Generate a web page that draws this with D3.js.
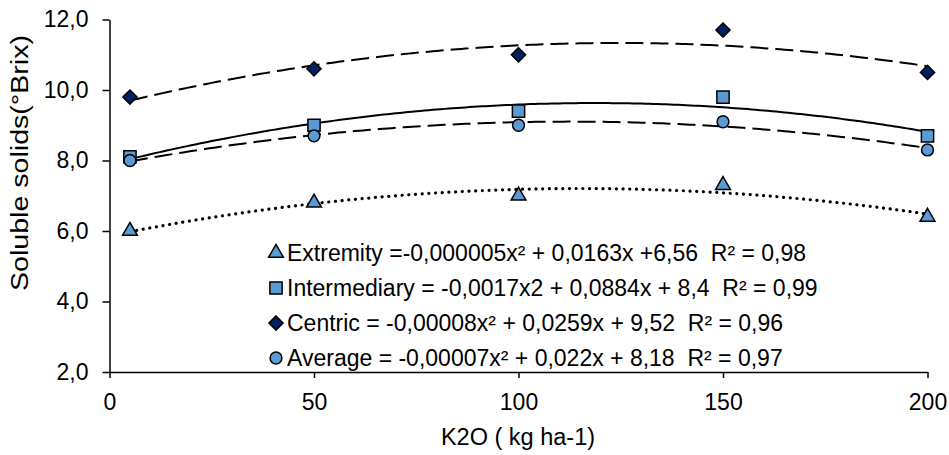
<!DOCTYPE html>
<html>
<head>
<meta charset="utf-8">
<script src="https://cdn.jsdelivr.net/npm/d3@7"></script>
<style>
  body { margin: 0; background: #fff; }
  svg { font-family: "Liberation Sans", Arial, sans-serif; }
  .legend text { white-space: pre; }
</style>
</head>
<body>
<div id="chart"></div>
<script>
// K2O doses (kg ha-1)
const doses = [5, 50, 100, 150, 200];

// Soluble solids by fruit position
const extremity = [6.0, 6.8, 7.0, 7.3, 6.4];
const intermediary = [8.1, 9.0, 9.4, 9.8, 8.7];
const centric = [9.8, 10.6, 11.0, 11.7, 10.5];
const average = [8.0, 8.7, 9.0, 9.1, 8.3];

const xTicks = [0, 50, 100, 150, 200];
const yTicks = [2, 4, 6, 8, 10, 12];

const legendLabels = [
  'Extremity =-0,000005x² + 0,0163x +6,56  R² = 0,98',
  'Intermediary = -0,0017x2 + 0,0884x + 8,4  R² = 0,99',
  'Centric = -0,00008x² + 0,0259x + 9,52  R² = 0,96',
  'Average = -0,00007x² + 0,022x + 8,18  R² = 0,97',
];

const diamond = {
  draw(ctx, size) {
    const r = Math.sqrt(size / 2);
    ctx.moveTo(0, -r);
    ctx.lineTo(r, 0);
    ctx.lineTo(0, r);
    ctx.lineTo(-r, 0);
    ctx.closePath();
  },
};

const series = [
  { name: 'Extremity', values: extremity, symbol: d3.symbolTriangle, size: 95, fill: '#5b9bd5', dash: '0.1,6.6', cap: 'round', sw: 3.2 },
  { name: 'Intermediary', values: intermediary, symbol: d3.symbolSquare, size: 150, fill: '#5b9bd5', dash: null, cap: 'butt', sw: 2 },
  { name: 'Centric', values: centric, symbol: diamond, size: 100, fill: '#002060', dash: '18,7', cap: 'butt', sw: 2 },
  { name: 'Average', values: average, symbol: d3.symbolCircle, size: 110, fill: '#5b9bd5', dash: '18,7', cap: 'butt', sw: 2 },
];

// least squares quadratic, like the spreadsheet trendline
function quadFit(xs, ys) {
  let s = [0, 0, 0, 0, 0], t = [0, 0, 0];
  xs.forEach((x, i) => {
    for (let k = 0; k < 5; k++) s[k] += Math.pow(x, k);
    for (let k = 0; k < 3; k++) t[k] += ys[i] * Math.pow(x, k);
  });
  const A = [
    [s[0], s[1], s[2], t[0]],
    [s[1], s[2], s[3], t[1]],
    [s[2], s[3], s[4], t[2]],
  ];
  for (let i = 0; i < 3; i++) {
    for (let j = i + 1; j < 3; j++) {
      const f = A[j][i] / A[i][i];
      for (let k = i; k < 4; k++) A[j][k] -= f * A[i][k];
    }
  }
  const c = [0, 0, 0];
  for (let i = 2; i >= 0; i--) {
    let v = A[i][3];
    for (let k = i + 1; k < 3; k++) v -= A[i][k] * c[k];
    c[i] = v / A[i][i];
  }
  return (x) => c[0] + c[1] * x + c[2] * x * x;
}

const W = 949, H = 455;
const margin = { top: 19.5, right: 21.5, bottom: 83, left: 109.5 };
const width = W - margin.left - margin.right;
const height = H - margin.top - margin.bottom;

const svg = d3.select('#chart')
  .append('svg')
  .attr('width', W)
  .attr('height', H);

const g = svg.append('g')
  .attr('transform', `translate(${margin.left},${margin.top})`);

const x = d3.scaleLinear().domain([0, 200]).range([0, width]);
const y = d3.scaleLinear().domain([2, 12]).range([height, 0]);

const fmt = (v) => d3.format('.1f')(v).replace('.', ',');

// X axis
const xAxis = g.append('g')
  .attr('transform', `translate(0,${height})`)
  .call(d3.axisBottom(x).tickValues(xTicks).tickSize(6).tickPadding(16).tickSizeOuter(0));

// Y axis
const yAxis = g.append('g')
  .call(d3.axisLeft(y).tickValues(yTicks).tickFormat(fmt).tickSize(7).tickPadding(14).tickSizeOuter(0));

[xAxis, yAxis].forEach((a) => {
  a.select('.domain').attr('stroke', '#000').attr('stroke-width', 1.5);
  a.selectAll('.tick line').attr('stroke', '#000').attr('stroke-width', 1.5);
  a.selectAll('.tick text')
    .attr('fill', '#000')
    .style('font-size', '23px')
    .style('font-family', '"Liberation Sans", Arial, sans-serif');
});

// Axis titles
svg.append('text')
  .attr('x', 518)
  .attr('y', 445)
  .attr('text-anchor', 'middle')
  .style('font-size', '23.5px')
  .text('K2O ( kg ha-1)');

svg.append('text')
  .attr('transform', 'translate(28,163) rotate(-90)')
  .attr('text-anchor', 'middle')
  .attr('textLength', 256)
  .attr('lengthAdjust', 'spacingAndGlyphs')
  .style('font-size', '23px')
  .text('Soluble solids(°Brix)');

// Trendlines
const line = d3.line()
  .x((d) => x(d[0]))
  .y((d) => y(d[1]));

series.forEach((s) => {
  const f = quadFit(doses, s.values);
  const pts = d3.range(doses[0], doses[doses.length - 1] + 0.5, 1).map((v) => [v, f(v)]);
  g.append('path')
    .datum(pts)
    .attr('fill', 'none')
    .attr('stroke', '#000')
    .attr('stroke-width', s.sw)
    .attr('stroke-linecap', s.cap)
    .attr('stroke-dasharray', s.dash)
    .attr('d', line);
});

// Markers
const sym = (s) => d3.symbol().type(s.symbol).size(s.size)();

series.forEach((s) => {
  g.selectAll(null)
    .data(s.values.map((v, i) => [doses[i], v]))
    .enter()
    .append('path')
    .attr('d', sym(s))
    .attr('transform', (d) => `translate(${x(d[0])},${y(d[1])})`)
    .attr('fill', s.fill)
    .attr('stroke', '#000')
    .attr('stroke-width', 1.5);
});

// Legend
const legend = svg.append('g').attr('class', 'legend');
const legendY = [253, 288, 323, 358];
series.forEach((s, i) => {
  const row = legend.append('g').attr('transform', `translate(276,${legendY[i]})`);
  row.append('path')
    .attr('d', sym(s))
    .attr('fill', s.fill)
    .attr('stroke', '#000')
    .attr('stroke-width', 1.5);
  row.append('text')
    .attr('x', 11)
    .attr('dy', '0.36em')
    .style('font-size', '23px')
    .text(legendLabels[i]);
});
</script>
</body>
</html>
